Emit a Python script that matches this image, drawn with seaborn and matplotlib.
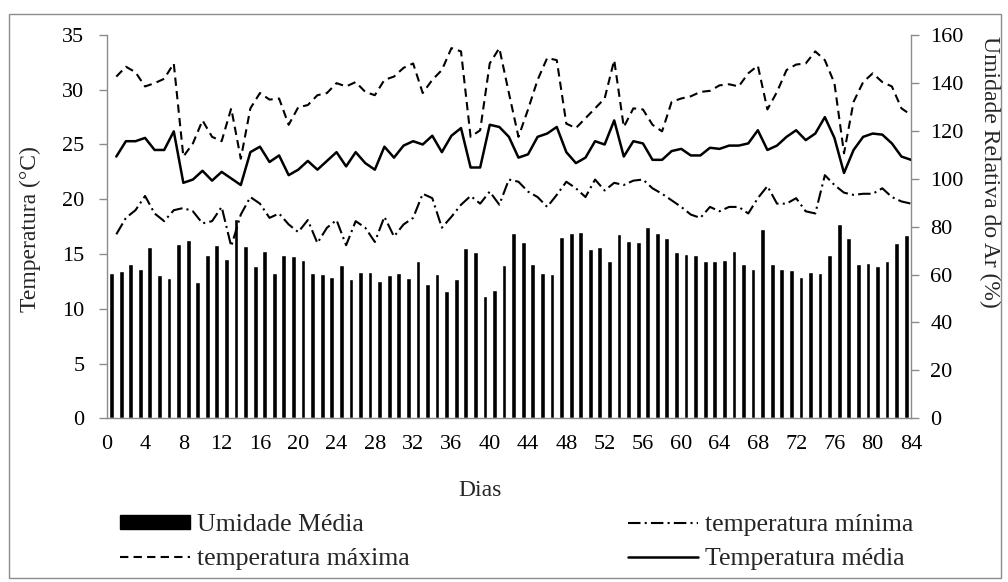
import matplotlib
matplotlib.use("Agg")
import matplotlib.pyplot as plt
from matplotlib.patches import Patch, Rectangle
from matplotlib.lines import Line2D
import seaborn as sns
import pandas as pd

# Dados (dias 1 a 84)
dias = list(range(1, 85))

umidade = [60.7, 61.6, 64.4, 62.3, 71.4, 59.7, 58.6, 72.9, 74.6, 56.9,
           68.3, 72.5, 66.5, 83.0, 72.1, 63.4, 69.7, 60.7, 68.3, 67.6,
           65.9, 60.7, 60.2, 59.0, 63.9, 58.2, 61.1, 61.1, 57.4, 59.7,
           60.7, 58.6, 65.5, 56.1, 60.2, 53.3, 58.2, 71.1, 69.5, 51.2,
           53.7, 64.1, 77.4, 73.6, 64.4, 60.7, 60.2, 75.7, 77.2, 77.8,
           70.8, 71.5, 65.5, 76.8, 74.0, 73.6, 79.9, 77.2, 75.3, 69.3,
           68.7, 68.3, 65.5, 65.5, 65.9, 69.7, 64.4, 62.3, 78.9, 64.4,
           62.3, 61.8, 59.0, 61.2, 60.7, 68.2, 81.0, 75.1, 64.4, 65.0,
           63.4, 65.5, 73.1, 76.3]

t_max = [31.2, 32.1, 31.6, 30.3, 30.6, 31.0, 32.4, 23.9, 25.1, 27.2,
         25.7, 25.3, 28.3, 23.7, 28.3, 29.7, 29.1, 29.2, 26.8, 28.4,
         28.6, 29.5, 29.7, 30.6, 30.3, 30.7, 29.8, 29.5, 30.9, 31.2,
         32.0, 32.4, 29.7, 30.9, 31.8, 33.8, 33.5, 25.7, 26.3, 32.4,
         33.8, 29.7, 25.7, 28.2, 30.9, 32.9, 32.7, 26.9, 26.5, 27.4,
         28.3, 29.2, 32.7, 26.6, 28.3, 28.2, 26.8, 26.2, 28.9, 29.2,
         29.4, 29.8, 29.9, 30.4, 30.5, 30.3, 31.5, 32.2, 28.2, 29.8,
         31.8, 32.3, 32.4, 33.5, 32.7, 30.6, 24.2, 28.9, 30.7, 31.5,
         30.7, 30.3, 28.3, 27.7]

t_min = [16.8, 18.3, 19.0, 20.3, 18.7, 18.0, 19.0, 19.2, 18.9, 17.8,
         18.0, 19.3, 15.7, 18.6, 20.2, 19.6, 18.3, 18.7, 17.7, 17.0,
         18.1, 16.0, 17.4, 18.1, 15.8, 18.0, 17.4, 16.1, 18.4, 16.6,
         17.7, 18.3, 20.5, 20.1, 17.4, 18.4, 19.5, 20.3, 19.6, 20.7,
         19.5, 21.8, 21.6, 20.7, 20.2, 19.3, 20.4, 21.6, 21.0, 20.2,
         21.8, 20.8, 21.5, 21.3, 21.7, 21.8, 21.0, 20.5, 19.9, 19.3,
         18.6, 18.3, 19.3, 18.9, 19.3, 19.3, 18.7, 20.1, 21.2, 19.6,
         19.6, 20.1, 18.9, 18.7, 22.2, 21.3, 20.6, 20.4, 20.5, 20.5,
         21.0, 20.2, 19.8, 19.6]

t_media = [23.9, 25.3, 25.3, 25.6, 24.5, 24.5, 26.2, 21.5, 21.8, 22.6,
           21.7, 22.5, 21.9, 21.3, 24.3, 24.8, 23.4, 24.0, 22.2, 22.7,
           23.5, 22.7, 23.5, 24.3, 23.0, 24.3, 23.3, 22.7, 24.8, 23.8,
           24.9, 25.3, 25.0, 25.8, 24.3, 25.8, 26.5, 22.9, 22.9, 26.8,
           26.6, 25.7, 23.8, 24.1, 25.7, 26.0, 26.6, 24.3, 23.3, 23.8,
           25.3, 25.0, 27.2, 23.9, 25.3, 25.1, 23.6, 23.6, 24.4, 24.6,
           24.0, 24.0, 24.7, 24.6, 24.9, 24.9, 25.1, 26.3, 24.5, 24.9,
           25.7, 26.3, 25.4, 26.0, 27.5, 25.6, 22.4, 24.5, 25.7, 26.0,
           25.9, 25.1, 23.9, 23.6]

df = pd.DataFrame({"dia": dias, "umidade": umidade, "t_max": t_max,
                   "t_min": t_min, "t_media": t_media})
df["pos_barra"] = df["dia"] - 0.5

sns.set_style("white")
plt.rcParams["font.family"] = ["Liberation Serif", "DejaVu Serif"]
cinza = "#8c8c8c"

fig = plt.figure(figsize=(10.08, 5.82), dpi=100)
ax = fig.add_axes([0.1059, 0.2813, 0.7979, 0.6586])
ax2 = ax.twinx()

# barras de umidade (eixo secundario)
sns.barplot(data=df, x="pos_barra", y="umidade", ax=ax2, native_scale=True,
            color="black", saturation=1, width=0.5, errorbar=None)

# linhas de temperatura (eixo principal)
estilo_max = (0, (4, 2.5))
estilo_min = (0, (6, 2, 1, 2))
sns.lineplot(data=df, x="dia", y="t_max", ax=ax, color="black", lw=1.5, linestyle=estilo_max)
sns.lineplot(data=df, x="dia", y="t_min", ax=ax, color="black", lw=1.5, linestyle=estilo_min)
sns.lineplot(data=df, x="dia", y="t_media", ax=ax, color="black", lw=1.8)

ax.set_zorder(ax2.get_zorder() + 1)
ax.patch.set_visible(False)

ax.set_xlim(0, 84)
ax.set_xticks(range(0, 85, 4))
ax.set_ylim(0, 35)
ax.set_yticks(range(0, 36, 5))
ax2.set_ylim(0, 160)
ax2.set_yticks(range(0, 161, 20))
ax.set_xlabel("")
ax.set_ylabel("")
ax2.set_xlabel("")
ax2.set_ylabel("")

for a in (ax, ax2):
    for s in a.spines.values():
        s.set_visible(False)
ax.spines["left"].set_visible(True)
ax.spines["bottom"].set_visible(True)
ax2.spines["right"].set_visible(True)
for s in (ax.spines["left"], ax.spines["bottom"], ax2.spines["right"]):
    s.set_color(cinza)
    s.set_linewidth(1.0)

ax.tick_params(axis="both", direction="out", length=6, width=1, color=cinza,
               labelsize=16, labelcolor="black")
ax.tick_params(axis="y", pad=10)
ax.tick_params(axis="x", pad=6)
ax2.tick_params(axis="y", direction="out", length=6, width=1, color=cinza,
                labelsize=16, labelcolor="black", pad=8)
ax2.tick_params(axis="x", bottom=False, labelbottom=False)

fig.text(480 / 1008, 1 - 490 / 582, "Dias", fontsize=17, ha="center", va="center")
fig.text(30 / 1008, 1 - 229 / 582, "Temperatura (°C)", fontsize=17,
         rotation=90, ha="center", va="center")
fig.text(990 / 1008, 1 - 172 / 582, "Umidade Relativa do Ar (%)", fontsize=17,
         rotation=-90, ha="center", va="center")

handles = [Patch(facecolor="black", edgecolor="black"),
           Line2D([], [], color="black", lw=1.5, linestyle=estilo_max),
           Line2D([], [], color="black", lw=1.5, linestyle=estilo_min),
           Line2D([], [], color="black", lw=1.8)]
labels = ["Umidade Média", "temperatura máxima", "temperatura mínima", "Temperatura média"]
fig.legend(handles, labels, ncol=2, frameon=False, fontsize=18.5,
           loc="center left", bbox_to_anchor=(97 / 1008, 1 - 542 / 582),
           handlelength=2.72, handleheight=0.45, handletextpad=0.27,
           columnspacing=8.5, labelspacing=0.45)

# moldura externa do grafico
fig.patches.append(Rectangle((9 / 1008, 4 / 582), 992 / 1008, 564 / 582,
                             transform=fig.transFigure, fill=False,
                             edgecolor=cinza, lw=1))

fig.savefig("out.png", dpi=100)
